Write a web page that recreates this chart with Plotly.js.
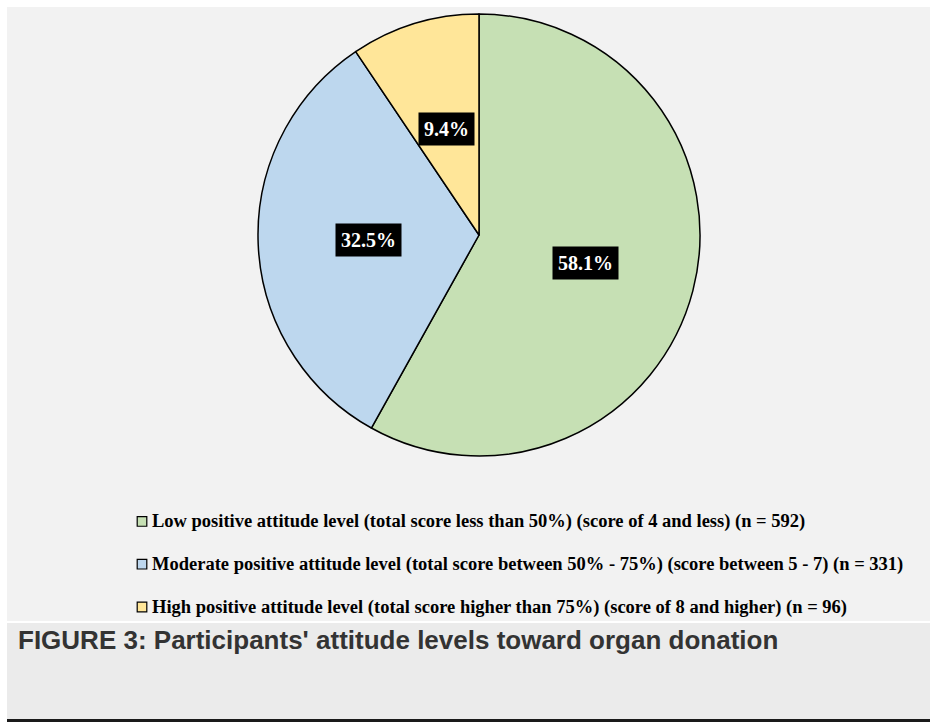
<!DOCTYPE html>
<html>
<head>
<meta charset="utf-8">
<script src="https://cdn.plot.ly/plotly-3.0.1.min.js"></script>
<style>
html,body{margin:0;padding:0;background:#fff;}
#chart{width:934px;height:724px;}
.legendpoints path{transform:translate(30px,0px) scale(0.8) !important;}
.legendtext{font-size:18.5px !important;}
</style>
</head>
<body>
<div id="chart"></div>
<script>
// ---- data ----
const categories = [
  "Low positive attitude level (total score less than 50%) (score of 4 and less) (n = 592)",
  "Moderate positive attitude level (total score between 50% - 75%) (score between 5 - 7) (n = 331)",
  "High positive attitude level (total score higher than 75%) (score of 8 and higher) (n = 96)"
];
const counts = [592, 331, 96];
const sliceColors = ["#c6e0b4", "#bdd7ee", "#ffe699"];
const captionText = "FIGURE 3: Participants' attitude levels toward organ donation";

// ---- layout geometry ----
const W = 934, H = 724;
const cx = 479, cy = 235, R = 221;   // pie centre / radius in pixels
const dom = {
  x: [(cx - R) / W, (cx + R) / W],
  y: [1 - (cy + R) / H, 1 - (cy - R) / H]
};

const total = counts.reduce((a, b) => a + b, 0);
const annotations = [];
let cum = 0;
counts.forEach((v, i) => {
  const mid = (cum + v / 2) / total * 2 * Math.PI;
  cum += v;
  const px = cx + 0.5 * R * Math.sin(mid);
  const py = cy - 0.5 * R * Math.cos(mid);
  annotations.push({
    xref: 'paper', yref: 'paper', x: px / W, y: 1 - py / H,
    xanchor: 'center', yanchor: 'middle', showarrow: false,
    text: (v / total * 100).toFixed(1) + '%',
    font: {family: 'Liberation Serif, Times New Roman, serif', size: 20, color: '#ffffff', weight: 'bold'},
    bgcolor: '#000000', borderpad: 5
  });
});

annotations.push({
  xref: 'paper', yref: 'paper', x: 16 / W, y: 1 - 640 / H,
  xanchor: 'left', yanchor: 'middle', showarrow: false,
  text: captionText,
  font: {family: 'Liberation Sans, Arial, sans-serif', size: 26, color: '#333333', weight: 'bold'}
});

const trace = {
  type: 'pie',
  labels: categories.map(c => c + '<br>&nbsp;'),
  values: counts,
  sort: false,
  direction: 'clockwise',
  rotation: 0,
  textinfo: 'none',
  marker: {colors: sliceColors, line: {color: '#000000', width: 1.5}},
  domain: dom,
  hoverinfo: 'label+percent'
};

const layout = {
  width: W, height: H,
  margin: {l: 0, r: 0, t: 0, b: 0},
  paper_bgcolor: '#ffffff',
  showlegend: true,
  legend: {
    x: 112 / W, y: 1 - 505 / H, xanchor: 'left', yanchor: 'top',
    orientation: 'v', valign: 'top', bgcolor: 'rgba(0,0,0,0)',
    font: {family: 'Liberation Serif, Times New Roman, serif', size: 15.3, color: '#000000', weight: 'bold'},
    itemwidth: 30
  },
  shapes: [
    {type: 'rect', xref: 'paper', yref: 'paper', layer: 'below',
     x0: 7 / W, x1: 930 / W, y0: 1 - 621 / H, y1: 1 - 7 / H,
     fillcolor: '#f2f2f2', line: {width: 0}},
    {type: 'rect', xref: 'paper', yref: 'paper', layer: 'below',
     x0: 7 / W, x1: 930 / W, y0: 1 - 719 / H, y1: 1 - 623 / H,
     fillcolor: '#ebebeb', line: {width: 0}},
    {type: 'rect', xref: 'paper', yref: 'paper', layer: 'below',
     x0: 7 / W, x1: 930 / W, y0: 1 - 722 / H, y1: 1 - 719 / H,
     fillcolor: '#1a1a1a', line: {width: 0}}
  ],
  annotations: annotations
};

Plotly.newPlot('chart', [trace], layout, {displayModeBar: false, staticPlot: true});
</script>
</body>
</html>
